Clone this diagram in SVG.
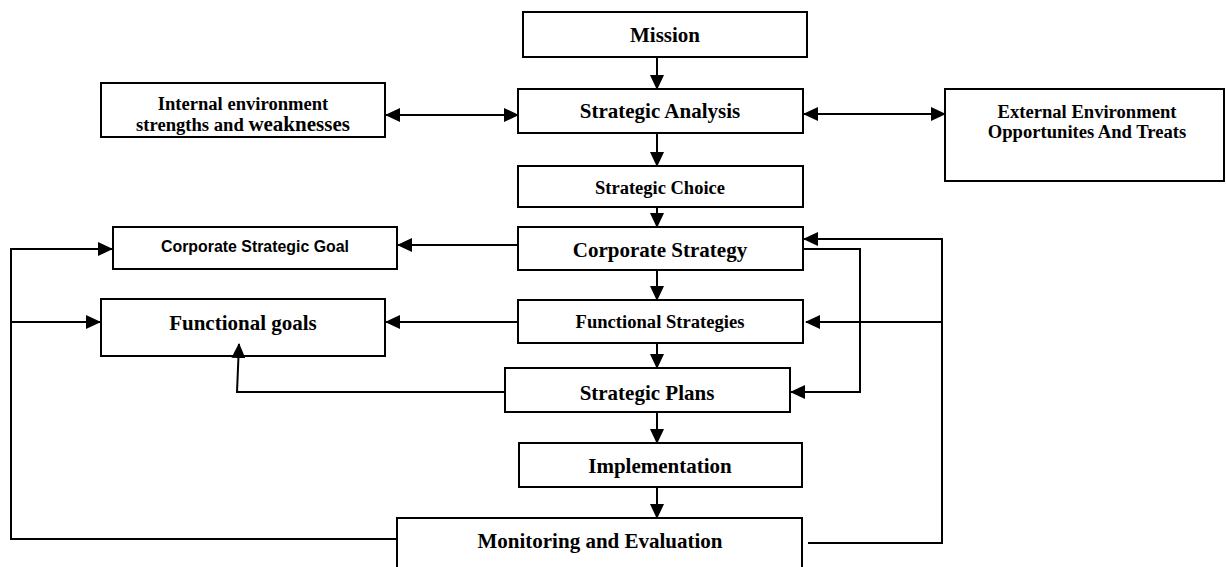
<svg xmlns="http://www.w3.org/2000/svg" width="1226" height="567" viewBox="0 0 1226 567">
<style>
.box{fill:#fff;stroke:#000;stroke-width:2}
.t{font-family:"Liberation Serif","Times New Roman",serif;font-weight:bold;fill:#000;text-anchor:middle}
.a{font-family:"Liberation Sans",Arial,sans-serif;font-weight:bold;fill:#000;text-anchor:middle}
.c{fill:none;stroke:#000;stroke-width:2}
</style>
<defs>
<marker id="ah" markerUnits="userSpaceOnUse" markerWidth="15" markerHeight="14" refX="14" refY="7" orient="auto-start-reverse">
<path d="M0,0 L15,7 L0,14 z" fill="#000"/>
</marker>
</defs>
<rect width="1226" height="567" fill="#fff"/>
<g id="mission"><rect class="box" x="523" y="12" width="284" height="45"/><text class="t" x="665" y="42" font-size="21">Mission</text></g>
<g id="internal"><rect class="box" x="101" y="83" width="284" height="54"/><text class="t" x="243" y="110" font-size="18.6">Internal environment</text><text class="t" x="243" y="131" font-size="18.6">strengths and <tspan font-size="21">weaknesses</tspan></text></g>
<g id="analysis"><rect class="box" x="518" y="89" width="285" height="44"/><text class="t" x="660" y="118" font-size="21">Strategic Analysis</text></g>
<g id="external"><rect class="box" x="945" y="89" width="279" height="92"/><text class="t" x="1087" y="118" font-size="18.6">External Environment</text><text class="t" x="1087" y="138" font-size="18.6">Opportunites And Treats</text></g>
<g id="choice"><rect class="box" x="518" y="166" width="285" height="41"/><text class="t" x="660" y="194" font-size="18.5">Strategic Choice</text></g>
<g id="corp-goal"><rect class="box" x="113" y="227" width="284" height="42"/><text class="a" x="255" y="252" font-size="15.9">Corporate Strategic Goal</text></g>
<g id="corp-strategy"><rect class="box" x="518" y="227" width="285" height="43"/><text class="t" x="660" y="257" font-size="21">Corporate Strategy</text></g>
<g id="func-goals"><rect class="box" x="101" y="299" width="284" height="57"/><text class="t" x="243" y="330" font-size="21">Functional goals</text></g>
<g id="func-strategies"><rect class="box" x="518" y="300" width="285" height="43"/><text class="t" x="660" y="328" font-size="18.6">Functional Strategies</text></g>
<g id="plans"><rect class="box" x="505" y="368" width="285" height="44"/><text class="t" x="647" y="400" font-size="21">Strategic Plans</text></g>
<g id="implementation"><rect class="box" x="519" y="443" width="283" height="44"/><text class="t" x="660" y="473" font-size="21">Implementation</text></g>
<g id="monitoring"><rect class="box" x="397" y="518" width="405" height="60"/><text class="t" x="600" y="548" font-size="21">Monitoring and Evaluation</text></g>
<g id="connectors">
<line class="c" x1="657" y1="57" x2="657" y2="89" marker-end="url(#ah)"/>
<line class="c" x1="657" y1="133" x2="657" y2="166" marker-end="url(#ah)"/>
<line class="c" x1="657" y1="207" x2="657" y2="227" marker-end="url(#ah)"/>
<line class="c" x1="657" y1="270" x2="657" y2="300" marker-end="url(#ah)"/>
<line class="c" x1="657" y1="343" x2="657" y2="368" marker-end="url(#ah)"/>
<line class="c" x1="657" y1="412" x2="657" y2="443" marker-end="url(#ah)"/>
<line class="c" x1="657" y1="487" x2="657" y2="518" marker-end="url(#ah)"/>
<line class="c" x1="386" y1="115" x2="518" y2="115" marker-start="url(#ah)" marker-end="url(#ah)"/>
<line class="c" x1="804" y1="114" x2="945" y2="114" marker-start="url(#ah)" marker-end="url(#ah)"/>
<line class="c" x1="518" y1="245" x2="398" y2="245" marker-end="url(#ah)"/>
<line class="c" x1="518" y1="322" x2="386" y2="322" marker-end="url(#ah)"/>
<polyline class="c" points="505,392 237,392 239,344" marker-end="url(#ah)"/>
<polyline class="c" points="397,539 11,539 11,249 112,249" marker-end="url(#ah)"/>
<line class="c" x1="11" y1="322" x2="100" y2="322" marker-end="url(#ah)"/>
<polyline class="c" points="808,543 942,543 942,239 804,239" marker-end="url(#ah)"/>
<line class="c" x1="942" y1="322" x2="806" y2="322" marker-end="url(#ah)"/>
<polyline class="c" points="803,249 860,249 860,392 791,392" marker-end="url(#ah)"/>
</g>
</svg>
